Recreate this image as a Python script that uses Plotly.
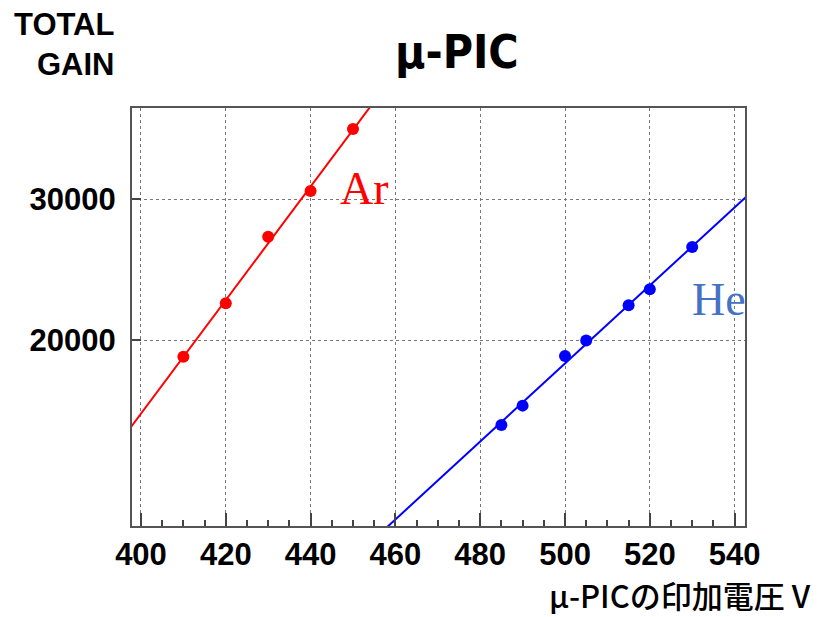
import numpy as np
import plotly.graph_objects as go

# ---- data ----
ar_voltage = [410, 420, 430, 440, 450]
ar_gain = [19060, 22230, 26920, 30700, 36680]
he_voltage = [485, 490, 500, 505, 515, 520, 530]
he_gain = [15660, 16560, 19100, 19970, 22100, 23140, 26140]
x_ticks = [400, 420, 440, 460, 480, 500, 520, 540]
y_ticks = [20000, 30000]
y_tick_labels = ["20000", "30000"]

X_RANGE = [397.88, 542.45]
Y_RANGE_LOG = [4.06873, 4.59077]

def exp_fit(v, g, v_lo, v_hi):
    b, a = np.polyfit(np.array(v, float), np.log10(np.array(g, float)), 1)
    xs = np.linspace(v_lo, v_hi, 200)
    return xs, 10 ** (a + b * xs)

ar_fx, ar_fy = exp_fit(ar_voltage, ar_gain, X_RANGE[0] - 5, 470)
he_fx, he_fy = exp_fit(he_voltage, he_gain, 440, X_RANGE[1] + 5)

RED = "#ff0000"
BLUE = "#0000ff"

fig = go.Figure()
fig.add_trace(go.Scatter(x=ar_fx, y=ar_fy, mode="lines", line=dict(color=RED, width=2), showlegend=False))
fig.add_trace(go.Scatter(x=he_fx, y=he_fy, mode="lines", line=dict(color=BLUE, width=2), showlegend=False))
fig.add_trace(go.Scatter(x=ar_voltage, y=ar_gain, mode="markers", marker=dict(color=RED, size=12), showlegend=False))
fig.add_trace(go.Scatter(x=he_voltage, y=he_gain, mode="markers", marker=dict(color=BLUE, size=12), showlegend=False))

tick_font = dict(family="Liberation Sans, Arial, sans-serif", size=31, color="black", weight="bold")

fig.update_layout(
    width=827, height=617,
    margin=dict(l=132, r=82, t=108, b=91),
    paper_bgcolor="white", plot_bgcolor="white",
    xaxis=dict(
        range=X_RANGE, tickvals=x_ticks, ticks="inside", ticklen=13, tickwidth=1.5, tickcolor="#444",
        showline=True, linecolor="#555", linewidth=2, mirror=True,
        showgrid=True, gridcolor="#777", griddash="dot", gridwidth=1,
        tickfont=tick_font, zeroline=False,
        minor=dict(dtick=5, tick0=400, ticks="inside", ticklen=6, tickcolor="#444", showgrid=False),
    ),
    yaxis=dict(
        type="log", range=Y_RANGE_LOG, tickvals=y_ticks, ticktext=y_tick_labels,
        ticks="inside", ticklen=9, tickwidth=1.5, tickcolor="#444",
        showline=True, linecolor="#555", linewidth=2, mirror=True,
        showgrid=True, gridcolor="#777", griddash="dot", gridwidth=1,
        tickfont=tick_font, zeroline=False, ticklabelstandoff=8,
    ),
)

fig.add_annotation(text="TOTAL<br>GAIN", xref="paper", yref="paper", x=(116 - 132) / 613, y=1 + (108 - 5) / 418,
                   xanchor="right", yanchor="top", align="right", showarrow=False,
                   font=dict(family="Liberation Sans, Arial, sans-serif", size=31, color="black", weight="bold"))
fig.add_annotation(text="μ-PIC", xref="paper", yref="paper", x=(457 - 132) / 613, y=1 + (108 - 52) / 418,
                   xanchor="center", yanchor="middle", showarrow=False,
                   font=dict(family="DejaVu Sans Condensed, DejaVu Sans, sans-serif", size=46, color="black",
                             weight="bold"))
fig.add_annotation(text="μ-PICの印加電圧 V", xref="paper", yref="paper", x=(813 - 132) / 613, y=(526 - 594) / 418,
                   xanchor="right", yanchor="middle", showarrow=False,
                   font=dict(family="Noto Sans CJK JP, sans-serif", size=31, color="black", weight=500))
fig.add_annotation(text="Ar", xref="x", yref="y", x=452.6, y=np.log10(30880),
                   xanchor="center", yanchor="middle", showarrow=False,
                   font=dict(family="Liberation Serif, serif", size=46, color=RED))
fig.add_annotation(text="He", xref="x", yref="y", x=536.3, y=np.log10(22500),
                   xanchor="center", yanchor="middle", showarrow=False,
                   font=dict(family="Liberation Serif, serif", size=46, color="#4472c4"))

fig.write_html("out.html")
